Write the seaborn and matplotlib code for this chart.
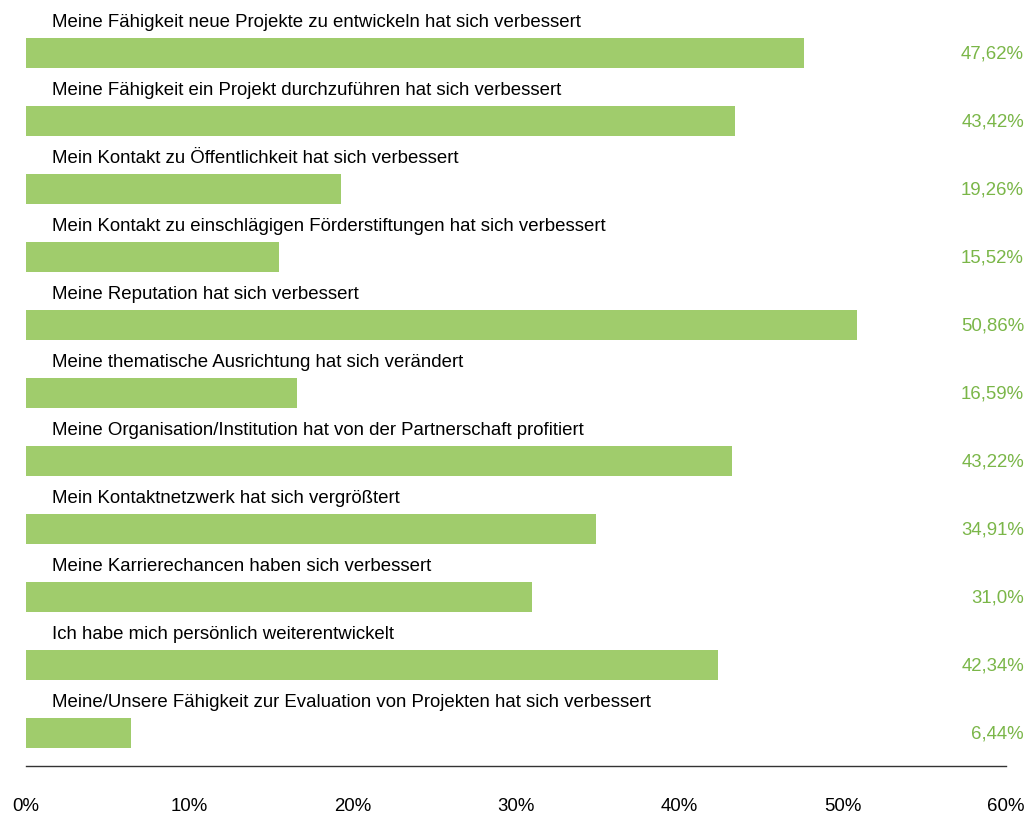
import matplotlib
matplotlib.use("Agg")
import matplotlib.pyplot as plt
import seaborn as sns
import pandas as pd

# Survey statements and share of agreement (%)
statements = [
    "Meine Fähigkeit neue Projekte zu entwickeln hat sich verbessert",
    "Meine Fähigkeit ein Projekt durchzuführen hat sich verbessert",
    "Mein Kontakt zu Öffentlichkeit hat sich verbessert",
    "Mein Kontakt zu einschlägigen Förderstiftungen hat sich verbessert",
    "Meine Reputation hat sich verbessert",
    "Meine thematische Ausrichtung hat sich verändert",
    "Meine Organisation/Institution hat von der Partnerschaft profitiert",
    "Mein Kontaktnetzwerk hat sich vergrößtert",
    "Meine Karrierechancen haben sich verbessert",
    "Ich habe mich persönlich weiterentwickelt",
    "Meine/Unsere Fähigkeit zur Evaluation von Projekten hat sich verbessert",
]
shares = [47.62, 43.42, 19.26, 15.52, 50.86, 16.59, 43.22, 34.91, 31.0, 42.34, 6.44]
share_labels = ["47,62%", "43,42%", "19,26%", "15,52%", "50,86%", "16,59%",
                "43,22%", "34,91%", "31,0%", "42,34%", "6,44%"]
x_ticks = [0, 10, 20, 30, 40, 50, 60]
x_tick_labels = ["0%", "10%", "20%", "30%", "40%", "50%", "60%"]

BAR_GREEN = "#a0cc6c"
TEXT_GREEN = "#7ab648"
FS = 13.4

sns.set_theme(style="white")
plt.rcParams["font.family"] = ["Liberation Sans", "DejaVu Sans"]

df = pd.DataFrame({"statement": statements, "share": shares})

W, H = 1027, 813
fig = plt.figure(figsize=(W / 100, H / 100), dpi=100)
ax = fig.add_axes([26 / W, (H - 766) / H, 980 / W, 766 / H])

sns.barplot(data=df, x="share", y="statement", order=statements,
            color=BAR_GREEN, saturation=1, width=0.44, linewidth=0, ax=ax)

ax.set_xlim(0, 60)
ax.set_ylim(10.485, -0.78)

px = 0.72  # pixels -> points at 100 dpi
for i, (text, lab) in enumerate(zip(statements, share_labels)):
    ax.annotate(text, xy=(0, i), xytext=(26 * px, 31 * px),
                textcoords="offset points", ha="left", va="center",
                fontsize=FS, color="#000000")
    ax.annotate(lab, xy=(1, i), xycoords=("axes fraction", "data"),
                xytext=(18 * px, -1 * px), textcoords="offset points",
                ha="right", va="center", fontsize=FS, color=TEXT_GREEN,
                annotation_clip=False)

ax.set_xticks(x_ticks)
ax.set_xticklabels(x_tick_labels, fontsize=FS, color="#000000")
ax.set_yticks([])
ax.set_xlabel("")
ax.set_ylabel("")
ax.tick_params(axis="x", length=0, pad=23)

for side in ["top", "left", "right"]:
    ax.spines[side].set_visible(False)
ax.spines["bottom"].set_color("#333333")
ax.spines["bottom"].set_linewidth(1.0)

fig.savefig("out.png", dpi=100)
